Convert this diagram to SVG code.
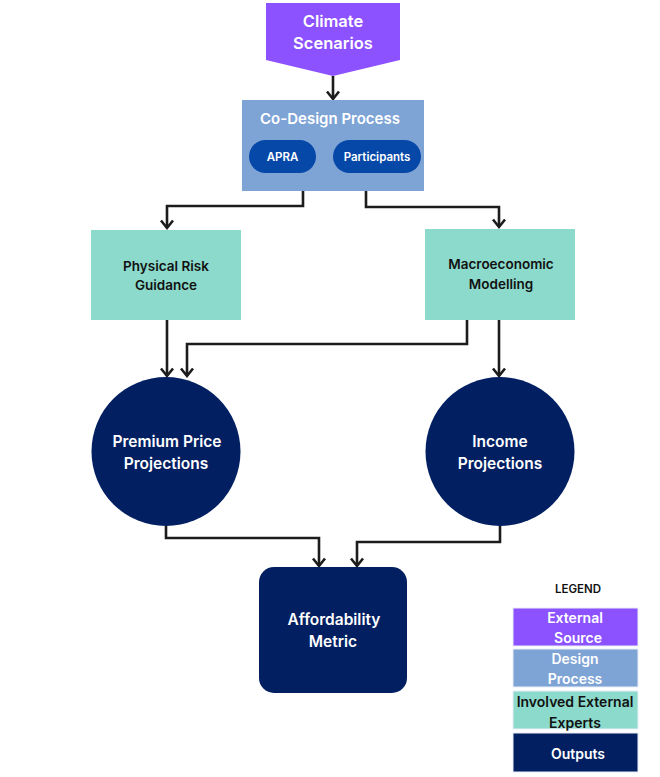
<svg xmlns="http://www.w3.org/2000/svg" width="660" height="777" viewBox="0 0 660 777">
<style>
text{font-family:Inter,"Noto Sans","Liberation Sans",sans-serif;font-weight:600;text-anchor:middle;dominant-baseline:central}
.w{fill:#ffffff}
.k{fill:#111111}
.con{fill:none;stroke:#1c1c1c;stroke-width:2.6;marker-end:url(#arr)}
.purple{fill:#8C52FF}
.blue{fill:#7EA3D5}
.teal{fill:#8BDACC}
.navy{fill:#021F62}
.pill{fill:#0548A8}
.leg{stroke:#e8eef8;stroke-width:1}
</style>
<defs>
<marker id="arr" markerUnits="userSpaceOnUse" markerWidth="16" markerHeight="16" viewBox="0 0 16 16" refX="12" refY="8" orient="auto">
<path d="M4.5,2 L12,8 L4.5,14" fill="none" stroke="#1c1c1c" stroke-width="2.6"/>
</marker>
</defs>
<rect width="660" height="777" fill="#ffffff"/>
<g id="connectors">
<path class="con" d="M333,76 V99"/>
<path class="con" d="M303,191 V206 H167 V228"/>
<path class="con" d="M366,191 V207 H499 V227"/>
<path class="con" d="M167,320 V376"/>
<path class="con" d="M467,320 V344 H187 V376"/>
<path class="con" d="M499,320 V376"/>
<path class="con" d="M166,526 V538 H319 V566"/>
<path class="con" d="M500,526 V542 H357 V566"/>
</g>
<g id="climate">
<polygon class="purple" points="266,3 400,3 400,60 333,76 266,60"/>
<text class="w" x="333" y="21" font-size="16.5">Climate</text>
<text class="w" x="333" y="43" font-size="16.5">Scenarios</text>
</g>
<g id="codesign">
<rect class="blue" x="242" y="100" width="182" height="91"/>
<text class="w" x="330" y="118" font-size="15">Co-Design Process</text>
<g id="apra">
<rect class="pill" x="249" y="140" width="67" height="33" rx="16.5"/>
<text class="w" x="282.5" y="156.5" font-size="11.5">APRA</text>
</g>
<g id="participants">
<rect class="pill" x="333" y="140" width="88" height="33" rx="16.5"/>
<text class="w" x="377" y="156.5" font-size="11.5">Participants</text>
</g>
</g>
<g id="physical">
<rect class="teal" x="91" y="230" width="150" height="90"/>
<text class="k" x="166" y="266" font-size="13.5">Physical Risk</text>
<text class="k" x="166" y="285" font-size="13.5">Guidance</text>
</g>
<g id="macro">
<rect class="teal" x="425" y="229" width="150" height="91"/>
<text class="k" x="501" y="264" font-size="13.5">Macroeconomic</text>
<text class="k" x="501" y="284" font-size="13.5">Modelling</text>
</g>
<g id="premium">
<circle class="navy" cx="166" cy="451.5" r="74.5"/>
<text class="w" x="167" y="441" font-size="15.5">Premium Price</text>
<text class="w" x="166" y="463" font-size="15.5">Projections</text>
</g>
<g id="income">
<circle class="navy" cx="500" cy="451.5" r="74.5"/>
<text class="w" x="500" y="441" font-size="15.5">Income</text>
<text class="w" x="500" y="463" font-size="15.5">Projections</text>
</g>
<g id="affordability">
<rect class="navy" x="259" y="567" width="148" height="126" rx="15"/>
<text class="w" x="334" y="619" font-size="15.5">Affordability</text>
<text class="w" x="333" y="641" font-size="15.5">Metric</text>
</g>
<g id="legend">
<text class="k" x="578" y="589" font-size="11.5">LEGEND</text>
<rect class="purple leg" x="513" y="608" width="125" height="38"/>
<text class="w" x="575" y="617" font-size="14">External</text>
<text class="w" x="578" y="637" font-size="14">Source</text>
<rect class="blue leg" x="513" y="649" width="125" height="38"/>
<text class="w" x="575" y="658" font-size="14">Design</text>
<text class="w" x="575" y="678" font-size="14">Process</text>
<rect class="teal leg" x="513" y="691" width="125" height="38"/>
<text class="k" x="575" y="701" font-size="14">Involved External</text>
<text class="k" x="575" y="722" font-size="14">Experts</text>
<rect class="navy leg" x="513" y="733" width="125" height="39"/>
<text class="w" x="578" y="753" font-size="14">Outputs</text>
</g>
</svg>
